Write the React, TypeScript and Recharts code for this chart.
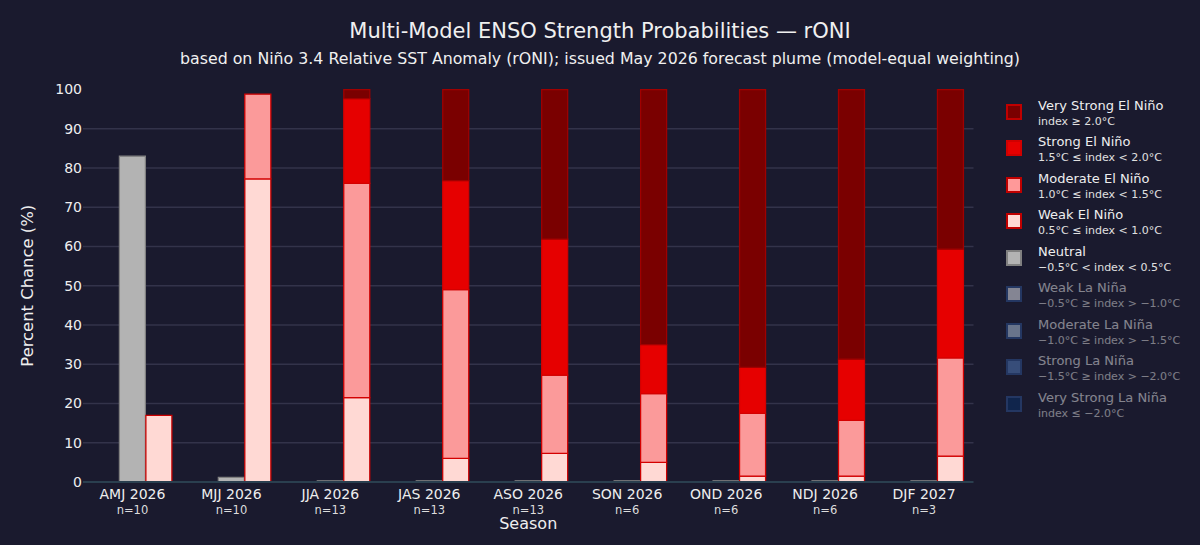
import { Bar, BarChart, CartesianGrid, Label, XAxis, YAxis } from 'recharts';

const FONT = '"DejaVu Sans", Verdana, sans-serif';
const BACKGROUND = '#1a1a2e';

const SEASONS = ['AMJ 2026', 'MJJ 2026', 'JJA 2026', 'JAS 2026', 'ASO 2026', 'SON 2026', 'OND 2026', 'NDJ 2026', 'DJF 2027'];
const MEMBERS = [10, 10, 13, 13, 13, 6, 6, 6, 3];

const VERY_STRONG_NINO = [0, 0, 2.3, 23.2, 38.1, 65, 70.8, 68.7, 40.7];
const STRONG_NINO = [0, 0, 21.6, 27.8, 34.7, 12.5, 11.7, 15.6, 27.7];
const MODERATE_NINO = [0, 21.6, 54.6, 43, 19.9, 17.5, 16, 14.2, 25];
const WEAK_NINO = [17, 77.2, 21.5, 6, 7.3, 5, 1.5, 1.5, 6.6];
const NEUTRAL = [83, 1.2, 0.3, 0.3, 0.3, 0.3, 0.3, 0.3, 0.3];
const WEAK_NINA = [0, 0, 0, 0, 0, 0, 0, 0, 0];
const MODERATE_NINA = [0, 0, 0, 0, 0, 0, 0, 0, 0];
const STRONG_NINA = [0, 0, 0, 0, 0, 0, 0, 0, 0];
const VERY_STRONG_NINA = [0, 0, 0, 0, 0, 0, 0, 0, 0];

const Y_TICKS = [0, 10, 20, 30, 40, 50, 60, 70, 80, 90, 100];
const GRID_VALUES = [10, 20, 30, 40, 50, 60, 70, 80, 90];

const chartData = SEASONS.map((season, i) => ({
  season,
  veryStrongNino: VERY_STRONG_NINO[i],
  strongNino: STRONG_NINO[i],
  moderateNino: MODERATE_NINO[i],
  weakNino: WEAK_NINO[i],
  neutral: NEUTRAL[i],
  weakNina: WEAK_NINA[i],
  moderateNina: MODERATE_NINA[i],
  strongNina: STRONG_NINA[i],
  veryStrongNina: VERY_STRONG_NINA[i],
}));

const LEGEND_ITEMS = [
  { name: 'Very Strong El Niño', range: 'index ≥ 2.0°C', fill: '#7a0000', stroke: '#c00000', faded: false },
  { name: 'Strong El Niño', range: '1.5°C ≤ index < 2.0°C', fill: '#e60000', stroke: '#d00000', faded: false },
  { name: 'Moderate El Niño', range: '1.0°C ≤ index < 1.5°C', fill: '#ff9999', stroke: '#c00000', faded: false },
  { name: 'Weak El Niño', range: '0.5°C ≤ index < 1.0°C', fill: '#ffd9d4', stroke: '#c00000', faded: false },
  { name: 'Neutral', range: '−0.5°C < index < 0.5°C', fill: '#b3b3b3', stroke: '#808080', faded: false },
  { name: 'Weak La Niña', range: '−0.5°C ≥ index > −1.0°C', fill: '#eef0f8', stroke: '#2f5597', faded: true },
  { name: 'Moderate La Niña', range: '−1.0°C ≥ index > −1.5°C', fill: '#b8cde8', stroke: '#2f5597', faded: true },
  { name: 'Strong La Niña', range: '−1.5°C ≥ index > −2.0°C', fill: '#5480c4', stroke: '#2f5597', faded: true },
  { name: 'Very Strong La Niña', range: 'index ≤ −2.0°C', fill: '#08306b', stroke: '#2f5597', faded: true },
];

const SeasonTick = ({ x, y, payload, index }: any) => (
  <g fontFamily={FONT}>
    <text x={x} y={y + 9} textAnchor="middle" fontSize={14} fill="#eeeeee">
      {payload.value}
    </text>
    <text x={x} y={y + 24} textAnchor="middle" fontSize={11.5} fill="#dddddd">
      n={MEMBERS[index]}
    </text>
  </g>
);

const StrengthLegend = () => (
  <div style={{ position: 'absolute', left: 1006, top: 96 }}>
    {LEGEND_ITEMS.map((item) => (
      <div key={item.name} style={{ height: 36.45, position: 'relative', width: 190, opacity: item.faded ? 0.5 : 1 }}>
        <div
          style={{
            position: 'absolute',
            left: 0,
            top: 8,
            width: 12,
            height: 12,
            background: item.fill,
            border: `2.5px solid ${item.stroke}`,
          }}
        />
        <div style={{ position: 'absolute', left: 32, top: 2, fontSize: 13, lineHeight: '16px', color: '#eeeeee', whiteSpace: 'nowrap' }}>
          {item.name}
        </div>
        <div style={{ position: 'absolute', left: 32, top: 19, fontSize: 11, lineHeight: '14px', color: '#e0e0e0', whiteSpace: 'nowrap' }}>
          {item.range}
        </div>
      </div>
    ))}
  </div>
);

export default function App() {
  return (
    <div style={{ position: 'absolute', left: 0, top: 0, width: 1200, height: 545, background: BACKGROUND, fontFamily: FONT, overflow: 'hidden' }}>
      <div style={{ position: 'absolute', left: 0, top: 18, width: 1200, textAlign: 'center', fontSize: 21, lineHeight: '26px', color: '#f0f0f0' }}>
        Multi-Model ENSO Strength Probabilities — rONI
      </div>
      <div style={{ position: 'absolute', left: 0, top: 49, width: 1200, textAlign: 'center', fontSize: 15.8, lineHeight: '20px', color: '#f0f0f0' }}>
        based on Niño 3.4 Relative SST Anomaly (rONI); issued May 2026 forecast plume (model-equal weighting)
      </div>
      <BarChart
        width={1200}
        height={545}
        data={chartData}
        barCategoryGap="10%"
        barGap={0.5}
        margin={{ top: 89.5, right: 226.5, bottom: 0, left: 0 }}
        style={{ position: 'absolute', left: 0, top: 0 }}
      >
        <CartesianGrid horizontal vertical={false} stroke="#33334a" strokeWidth={1.5} horizontalValues={GRID_VALUES} />
        <XAxis dataKey="season" height={63} interval={0} tickLine={false} axisLine={{ stroke: '#2a3f4f', strokeWidth: 2 }} tick={<SeasonTick />}>
          <Label value="Season" position="insideBottom" offset={16} fontSize={16} fill="#eeeeee" fontFamily={FONT} />
        </XAxis>
        <YAxis
          width={83}
          type="number"
          domain={[0, 100]}
          ticks={Y_TICKS}
          interval={0}
          tickLine={false}
          axisLine={false}
          tickMargin={1}
          tickSize={0}
          tick={{ fontSize: 14, fill: '#eeeeee', fontFamily: FONT }}
        >
          <Label value="Percent Chance (%)" angle={-90} position="insideLeft" offset={27} fontSize={16.4} fill="#eeeeee" fontFamily={FONT} style={{ textAnchor: 'middle' }} />
        </YAxis>
        <Bar dataKey="weakNina" name="Weak La Niña" stackId="nina" fill="#eef0f8" isAnimationActive={false} />
        <Bar dataKey="moderateNina" name="Moderate La Niña" stackId="nina" fill="#b8cde8" isAnimationActive={false} />
        <Bar dataKey="strongNina" name="Strong La Niña" stackId="nina" fill="#5480c4" isAnimationActive={false} />
        <Bar dataKey="veryStrongNina" name="Very Strong La Niña" stackId="nina" fill="#08306b" isAnimationActive={false} />
        <Bar dataKey="neutral" name="Neutral" stackId="neutral" fill="#b3b3b3" stroke="#808080" strokeWidth={1.25} isAnimationActive={false} />
        <Bar dataKey="weakNino" name="Weak El Niño" stackId="nino" fill="#ffd9d4" stroke="#cc0000" strokeWidth={1.25} isAnimationActive={false} />
        <Bar dataKey="moderateNino" name="Moderate El Niño" stackId="nino" fill="#fb9a9a" stroke="#d40000" strokeWidth={1.25} isAnimationActive={false} />
        <Bar dataKey="strongNino" name="Strong El Niño" stackId="nino" fill="#e60000" stroke="#d40000" strokeWidth={1.25} isAnimationActive={false} />
        <Bar dataKey="veryStrongNino" name="Very Strong El Niño" stackId="nino" fill="#7a0000" stroke="#a00000" strokeWidth={1.25} isAnimationActive={false} />
      </BarChart>
      <StrengthLegend />
    </div>
  );
}
